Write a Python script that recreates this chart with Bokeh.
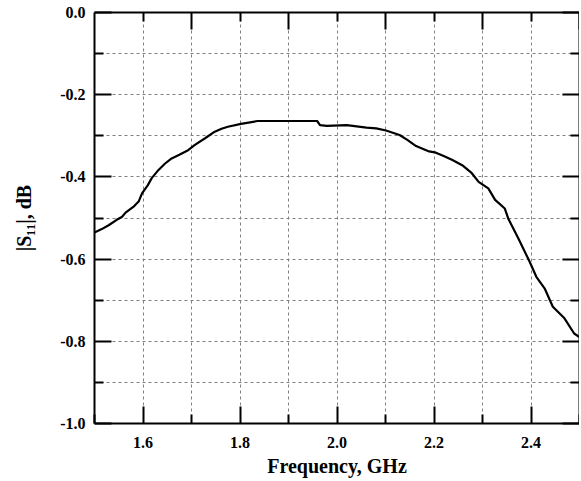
from bokeh.plotting import figure
from bokeh.models import LinearAxis, FixedTicker, Range1d, PrintfTickFormatter
from bokeh.embed import file_html
from bokeh.resources import INLINE

# Data
freq = [1.500, 1.515, 1.530, 1.545, 1.557, 1.564, 1.580, 1.591, 1.598, 1.610, 1.618,
        1.632, 1.645, 1.659, 1.675, 1.693, 1.707, 1.728, 1.748, 1.762, 1.775, 1.802,
        1.836, 1.959, 1.965, 1.979, 2.020, 2.061, 2.081, 2.101, 2.129, 2.145, 2.163,
        2.190, 2.204, 2.220, 2.238, 2.260, 2.278, 2.292, 2.312, 2.326, 2.346, 2.353,
        2.374, 2.397, 2.411, 2.428, 2.445, 2.469, 2.489, 2.500]
s11 = [-0.535, -0.527, -0.517, -0.505, -0.497, -0.487, -0.473, -0.460, -0.440, -0.420, -0.403,
       -0.383, -0.368, -0.355, -0.346, -0.335, -0.322, -0.306, -0.290, -0.283, -0.278, -0.271,
       -0.264, -0.264, -0.274, -0.276, -0.274, -0.280, -0.282, -0.287, -0.298, -0.310, -0.325,
       -0.338, -0.341, -0.349, -0.359, -0.373, -0.391, -0.412, -0.428, -0.456, -0.477, -0.501,
       -0.550, -0.606, -0.643, -0.671, -0.716, -0.744, -0.781, -0.790]

x_major = [1.6, 1.8, 2.0, 2.2, 2.4]
x_minor = [1.5, 1.7, 1.9, 2.1, 2.3, 2.5]
x_grid = [1.6, 1.7, 1.8, 1.9, 2.0, 2.1, 2.2, 2.3, 2.4]
y_major = [-1.0, -0.8, -0.6, -0.4, -0.2, 0.0]
y_minor = [-0.9, -0.7, -0.5, -0.3, -0.1]
y_grid = [-0.9, -0.8, -0.7, -0.6, -0.5, -0.4, -0.3, -0.2, -0.1]

FONT = "Liberation Serif"

p = figure(frame_width=485, frame_height=411,
           x_range=Range1d(1.5, 2.5), y_range=Range1d(-1.0, 0.0),
           output_backend="svg", toolbar_location=None,
           min_border_left=94, min_border_right=0, min_border_top=12, min_border_bottom=0)
p.outline_line_color = None

# grids
p.xgrid.ticker = FixedTicker(ticks=x_grid)
p.ygrid.ticker = FixedTicker(ticks=y_grid)
for g in (p.xgrid, p.ygrid):
    g.grid_line_color = "#808080"
    g.grid_line_dash = "3 3"
    g.grid_line_width = 1

def style_axis(ax, labels=True):
    ax.axis_line_width = 2
    ax.axis_line_color = "black"
    ax.major_tick_line_width = 2
    ax.minor_tick_line_width = 2
    ax.major_tick_line_color = "black"
    ax.minor_tick_line_color = "black"
    ax.major_tick_in = 17
    ax.major_tick_out = 0
    ax.minor_tick_in = 9
    ax.minor_tick_out = 0
    ax.major_label_text_font = FONT
    ax.major_label_text_font_style = "bold"
    ax.major_label_text_font_size = "16px"
    ax.major_label_text_color = "black" if labels else None
    ax.axis_label_text_font = FONT
    ax.axis_label_text_font_style = "bold"
    ax.axis_label_text_font_size = "20px"
    ax.axis_label_text_color = "black"

xa = p.xaxis[0]
xa.ticker = FixedTicker(ticks=x_major, minor_ticks=x_minor)
xa.formatter = PrintfTickFormatter(format="%.1f")
style_axis(xa)
xa.axis_label = "Frequency, GHz"
xa.major_label_standoff = 13
xa.axis_label_standoff = 4

ya = p.yaxis[0]
ya.ticker = FixedTicker(ticks=y_major, minor_ticks=y_minor)
ya.formatter = PrintfTickFormatter(format="%.1f")
style_axis(ya)
ya.axis_label = "|S\u2081\u2081|, dB"
ya.major_label_standoff = 9
ya.axis_label_standoff = 22

top = LinearAxis(ticker=FixedTicker(ticks=[1.7, 1.9, 2.1, 2.3, 2.5], minor_ticks=x_major))
style_axis(top, labels=False)
top.major_label_text_font_size = "0px"
top.major_label_standoff = 0
p.add_layout(top, "above")

right = LinearAxis(ticker=FixedTicker(ticks=y_major, minor_ticks=y_minor))
style_axis(right, labels=False)
right.major_label_text_font_size = "0px"
right.major_label_standoff = 0
p.add_layout(right, "right")

p.line(freq, s11, line_color="black", line_width=2.2)

open("out.html", "w").write(file_html(p, INLINE))
